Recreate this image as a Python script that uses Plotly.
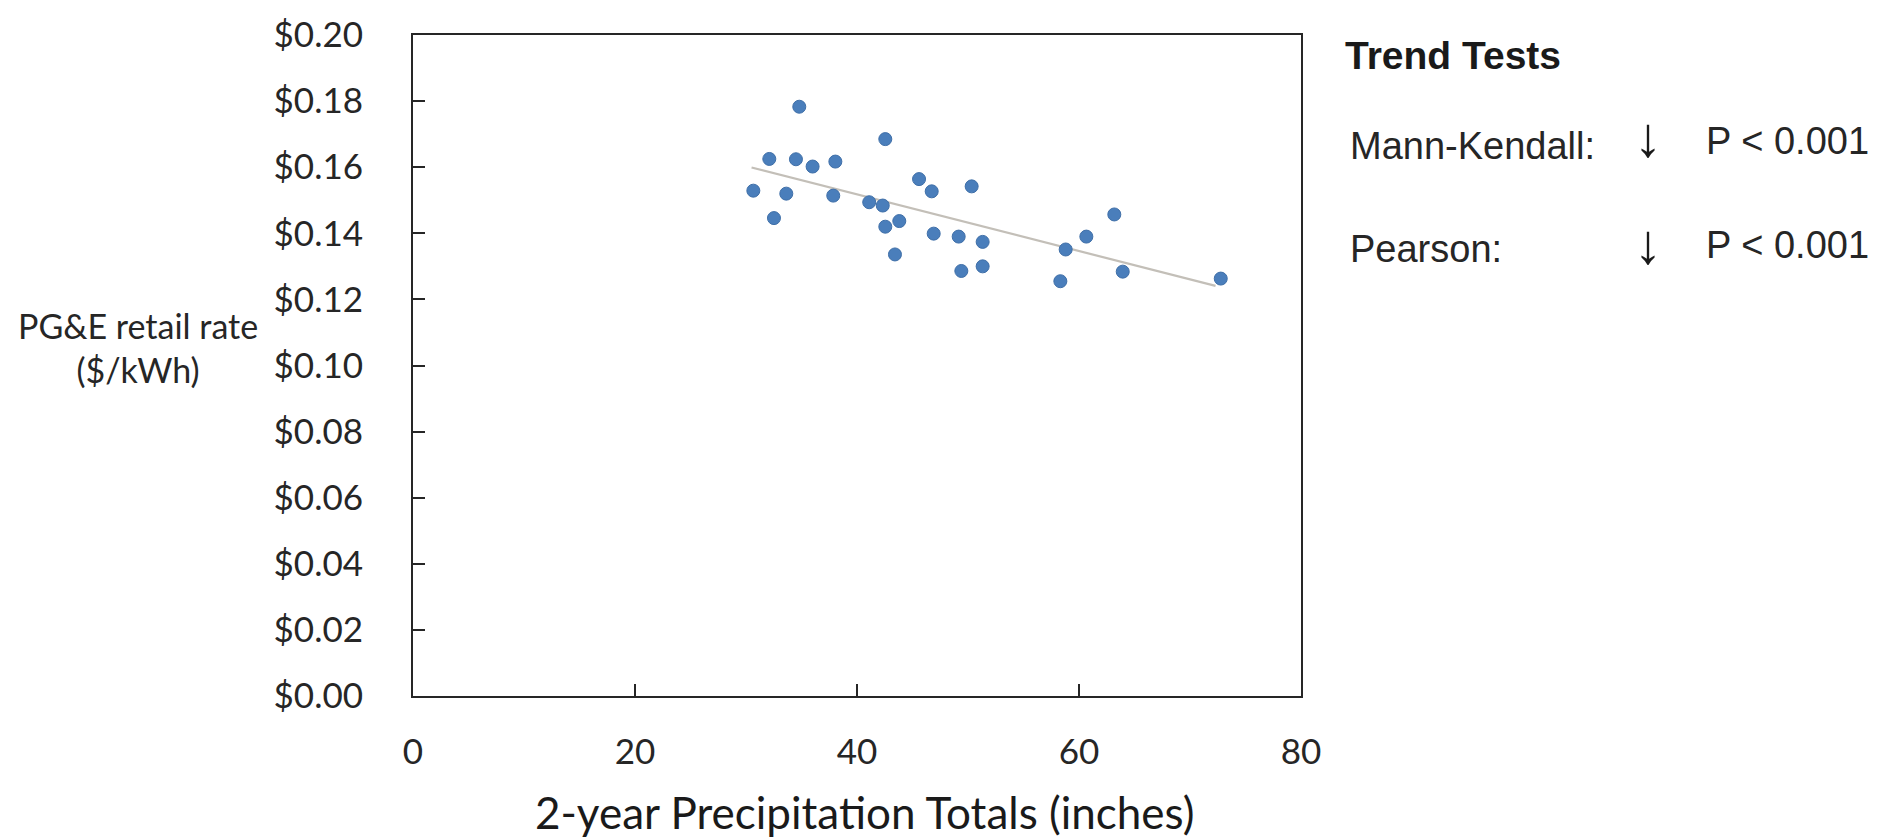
import plotly.graph_objects as go

# Data
precip_in = [30.66, 32.10, 32.52, 33.63, 34.50, 34.80, 36.00, 38.05, 37.86, 41.10,
             42.32, 42.55, 45.59, 46.73, 50.33, 42.55, 43.81, 43.42, 46.91, 49.16,
             51.32, 49.40, 51.32, 58.80, 58.32, 60.66, 63.18, 63.94, 72.77]
rate_usd = [0.1529, 0.1625, 0.1446, 0.1520, 0.1624, 0.1783, 0.1602, 0.1617, 0.1514, 0.1494,
            0.1484, 0.1685, 0.1564, 0.1527, 0.1542, 0.1420, 0.1437, 0.1336, 0.1399, 0.1390,
            0.1374, 0.1286, 0.1300, 0.1351, 0.1255, 0.1390, 0.1457, 0.1284, 0.1263]
trend_x = [30.5, 72.3]
trend_y = [0.1599, 0.1241]
x_ticks = [0, 20, 40, 60, 80]
y_ticks = [0.00, 0.02, 0.04, 0.06, 0.08, 0.10, 0.12, 0.14, 0.16, 0.18, 0.20]

tests = ["Mann-Kendall:", "Pearson:"]
test_dirs = ["\u2193", "\u2193"]
test_p = ["P < 0.001", "P < 0.001"]

W, H = 1879, 838
L, R, T, B = 413, 1301, 30, 696
PW, PH = R - L, B - T


def px(x):
    return (x - L) / PW


def py(y):
    return (B - y) / PH


fig = go.Figure()
fig.add_trace(go.Scatter(x=trend_x, y=trend_y, mode="lines",
                         line=dict(color="#c3bfb8", width=2.2),
                         showlegend=False, hoverinfo="skip"))
fig.add_trace(go.Scatter(x=precip_in, y=rate_usd, mode="markers",
                         marker=dict(color="#4a7ebb", size=13,
                                     line=dict(color="#3f6fa8", width=1)),
                         showlegend=False))

tick_font = dict(family="Lato", size=35, color="#262626")
fig.update_xaxes(range=[0, 80], tickvals=x_ticks, showline=True, mirror=True,
                 linecolor="#262626", linewidth=2, ticks="inside", ticklen=12,
                 tickwidth=1.5, tickcolor="#262626", showgrid=False, zeroline=False,
                 tickfont=tick_font, ticklabelstandoff=24, ticklabeloverflow="allow")
fig.update_yaxes(range=[0, 0.2], tickvals=y_ticks, tickformat="$.2f", showline=True,
                 mirror=True, linecolor="#262626", linewidth=2, ticks="inside",
                 ticklen=12, tickwidth=1.5, tickcolor="#262626", showgrid=False,
                 zeroline=False, tickfont=tick_font, ticklabelstandoff=41,
                 ticklabeloverflow="allow")

ann = []
ann.append(dict(text="PG&E retail rate<br>($/kWh)", xref="paper", yref="paper",
                x=px(138), y=py(345), xanchor="center", yanchor="middle",
                showarrow=False, font=dict(family="Lato", size=34, color="#262626")))
ann.append(dict(text="2-year Precipitation Totals (inches)", xref="paper", yref="paper",
                x=px(864), y=py(813), xanchor="center", yanchor="middle",
                showarrow=False, font=dict(family="Lato", size=44, color="#1a1a1a")))
ann.append(dict(text="<b>Trend Tests</b>", xref="paper", yref="paper",
                x=px(1343), y=py(51), xanchor="left", yanchor="middle",
                showarrow=False, font=dict(family="Liberation Sans", size=39, color="#1a1a1a")))
row_y = [142, 246]
arrow_y = [132, 240]
p_y = [137, 242]
for i in range(len(tests)):
    ann.append(dict(text=tests[i], xref="paper", yref="paper", x=px(1348), y=py(row_y[i]),
                    xanchor="left", yanchor="middle", showarrow=False,
                    font=dict(family="Liberation Sans", size=38, color="#262626")))
    ann.append(dict(text="<b>" + test_dirs[i] + "</b>", xref="paper", yref="paper",
                    x=px(1648), y=py(arrow_y[i]),
                    xanchor="center", yanchor="middle", showarrow=False,
                    font=dict(family="Liberation Sans", size=56, color="#1a1a1a")))
    ann.append(dict(text=test_p[i], xref="paper", yref="paper", x=px(1704), y=py(p_y[i]),
                    xanchor="left", yanchor="middle", showarrow=False,
                    font=dict(family="Liberation Sans", size=38, color="#262626")))

fig.update_layout(width=W, height=H, margin=dict(l=L, r=W - R, t=T, b=H - B),
                  plot_bgcolor="white", paper_bgcolor="white", annotations=ann)

fig.write_html("out.html", config={"displayModeBar": False},
               post_script="document.body.style.margin='0';document.body.style.overflow='hidden';")
